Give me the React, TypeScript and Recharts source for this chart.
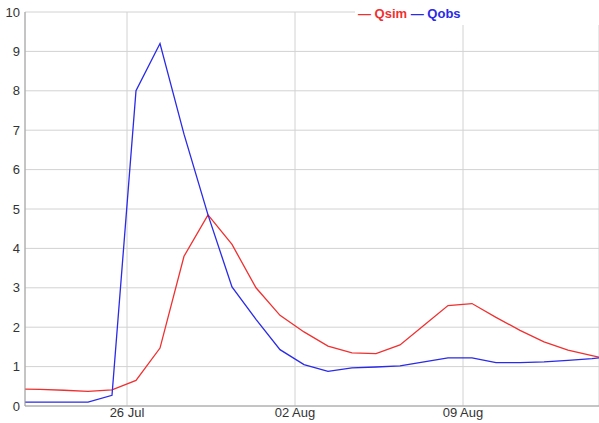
import { CartesianGrid, Line, LineChart, XAxis, YAxis } from "recharts";

// daily samples (UTC), plus the two partial-day end points
const times = [
  "2014-07-21T18:00Z", "2014-07-22T09:00Z", "2014-07-23T09:00Z", "2014-07-24T09:00Z",
  "2014-07-25T09:00Z", "2014-07-26T09:00Z", "2014-07-27T09:00Z", "2014-07-28T09:00Z",
  "2014-07-29T09:00Z", "2014-07-30T09:00Z", "2014-07-31T09:00Z", "2014-08-01T09:00Z",
  "2014-08-02T09:00Z", "2014-08-03T09:00Z", "2014-08-04T09:00Z", "2014-08-05T09:00Z",
  "2014-08-06T09:00Z", "2014-08-07T09:00Z", "2014-08-08T09:00Z", "2014-08-09T09:00Z",
  "2014-08-10T09:00Z", "2014-08-11T09:00Z", "2014-08-12T09:00Z", "2014-08-13T09:00Z",
  "2014-08-14T09:00Z", "2014-08-14T16:00Z",
];

const qsim = [
  0.43, 0.42, 0.4, 0.37, 0.41, 0.65, 1.47, 3.8, 4.85, 4.1, 3.0, 2.3, 1.88,
  1.52, 1.35, 1.33, 1.55, 2.05, 2.55, 2.6, 2.25, 1.92, 1.63, 1.42, 1.28, 1.24,
];

const qobs = [
  0.1, 0.1, 0.1, 0.1, 0.27, 8.0, 9.2, 6.9, 4.85, 3.02, 2.2, 1.43, 1.05,
  0.88, 0.97, 0.99, 1.02, 1.12, 1.22, 1.22, 1.1, 1.1, 1.12, 1.16, 1.2, 1.22,
];

const xTickDates = ["2014-07-26T00:00Z", "2014-08-02T00:00Z", "2014-08-09T00:00Z"];
const yTicks = [0, 1, 2, 3, 4, 5, 6, 7, 8, 9, 10];
const months = ["Jan", "Feb", "Mar", "Apr", "May", "Jun", "Jul", "Aug", "Sep", "Oct", "Nov", "Dec"];

const rows = times.map((s, i) => ({ t: Date.parse(s), qsim: qsim[i], qobs: qobs[i] }));
const xTicks = xTickDates.map((s) => Date.parse(s));

const fmtDate = (v: number) => {
  const d = new Date(v);
  return String(d.getUTCDate()).padStart(2, "0") + " " + months[d.getUTCMonth()];
};

const FONT = '"Liberation Sans", Arial, sans-serif';
const RED = "#f03030";
const BLUE = "#2a2ae8";

export default function App() {
  return (
    <div style={{ position: "absolute", left: 0, top: 0, width: 599, height: 423, background: "#fff", fontFamily: FONT }}>
      <LineChart width={599} height={423} data={rows} margin={{ top: 12, right: 0, bottom: 0, left: 0 }}>
        <CartesianGrid stroke="#d2d2d2" />
        <XAxis
          dataKey="t"
          type="number"
          scale="time"
          domain={[rows[0].t, rows[rows.length - 1].t]}
          ticks={xTicks}
          tickFormatter={fmtDate}
          height={17}
          tickLine={false}
          tickSize={0}
          tickMargin={2}
          stroke="#a0a0a0"
          tick={{ fontSize: 13, fill: "#333", fontFamily: FONT }}
        />
        <YAxis
          domain={[0, 10]}
          ticks={yTicks}
          width={25}
          tickLine={false}
          tickSize={0}
          tickMargin={5}
          stroke="#a0a0a0"
          tick={{ fontSize: 13, fill: "#333", fontFamily: FONT }}
        />
        <Line dataKey="qsim" type="linear" stroke={RED} strokeWidth={1.3} dot={false} isAnimationActive={false} />
        <Line dataKey="qobs" type="linear" stroke={BLUE} strokeWidth={1.3} dot={false} isAnimationActive={false} />
      </LineChart>
      <div
        style={{
          position: "absolute",
          left: 355,
          top: 0,
          width: 244,
          height: 25,
          background: "#fff",
          boxSizing: "border-box",
          paddingLeft: 3,
          paddingTop: 5,
          fontSize: 13,
          lineHeight: "18px",
          fontWeight: "bold",
        }}
      >
        <span style={{ color: RED }}>— Qsim</span> <span style={{ color: BLUE }}>— Qobs</span>
      </div>
    </div>
  );
}
